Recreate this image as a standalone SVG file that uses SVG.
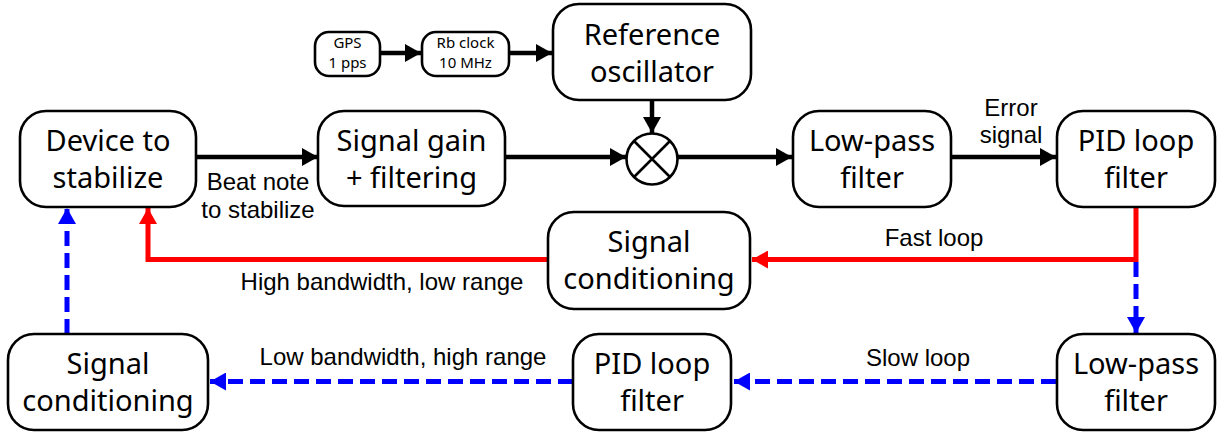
<svg xmlns="http://www.w3.org/2000/svg" width="1221" height="432" viewBox="0 0 1221 432">
<defs>
<style>
.box{fill:#fff;stroke:#000;stroke-width:2.6}
.bt{font-family:"Noto Sans","Open Sans",sans-serif;font-size:29px;fill:#000;text-anchor:middle}
.st{font-family:"Noto Sans","Open Sans",sans-serif;font-size:15px;fill:#000;text-anchor:middle}
.lb{font-family:"Liberation Sans",Arial,sans-serif;font-size:24px;fill:#000;text-anchor:middle}
.k{fill:none;stroke:#000;stroke-width:4.5}
.r{fill:none;stroke:#ff0000;stroke-width:5}
.b{fill:none;stroke:#0000ff;stroke-width:5;stroke-dasharray:15 7}
</style>
<marker id="ak" markerUnits="userSpaceOnUse" markerWidth="16" markerHeight="18" refX="16" refY="9" orient="auto"><path d="M0,0 L16,9 L0,18 Z" fill="#000"/></marker>
<marker id="ar" markerUnits="userSpaceOnUse" markerWidth="16" markerHeight="18" refX="16" refY="9" orient="auto"><path d="M0,0 L16,9 L0,18 Z" fill="#ff0000"/></marker>
<marker id="ab" markerUnits="userSpaceOnUse" markerWidth="16" markerHeight="18" refX="16" refY="9" orient="auto"><path d="M0,0 L16,9 L0,18 Z" fill="#0000ff"/></marker>
</defs>
<rect width="1221" height="432" fill="#fff"/>
<g id="connectors">
<path class="k" d="M381,53 H421" marker-end="url(#ak)"/>
<path class="k" d="M509,53 H552" marker-end="url(#ak)"/>
<path class="k" d="M652,100 V133" marker-end="url(#ak)"/>
<path class="k" d="M196,157 H318" marker-end="url(#ak)"/>
<path class="k" d="M505,157 H626" marker-end="url(#ak)"/>
<path class="k" d="M678,157 H792" marker-end="url(#ak)"/>
<path class="k" d="M950,157 H1056" marker-end="url(#ak)"/>
<path class="r" d="M1136,207 V259.5 H752" marker-end="url(#ar)"/>
<path class="r" d="M548,259.5 H148 V208" marker-end="url(#ar)"/>
<path class="b" d="M1136,262 V333" marker-end="url(#ab)"/>
<path class="b" d="M1056,381.5 H734" marker-end="url(#ab)"/>
<path class="b" d="M573,381.5 H210" marker-end="url(#ab)"/>
<path class="b" d="M67,334 V208" marker-end="url(#ab)"/>
<text class="lb" x="258" y="190">Beat note</text>
<text class="lb" x="258" y="218">to stabilize</text>
<text class="lb" x="1011" y="116">Error</text>
<text class="lb" x="1011" y="143">signal</text>
<text class="lb" x="934" y="246">Fast loop</text>
<text class="lb" x="382" y="290">High bandwidth, low range</text>
<text class="lb" x="918" y="366">Slow loop</text>
<text class="lb" x="403" y="365">Low bandwidth, high range</text>
</g>
<g id="gps"><rect class="box" x="315" y="32" width="65" height="44" rx="14"/><text class="st" x="347.5" y="47.5">GPS</text><text class="st" x="347.5" y="68">1 pps</text></g>
<g id="rb"><rect class="box" x="422" y="32" width="87" height="44" rx="14"/><text class="st" x="465.5" y="47.5">Rb clock</text><text class="st" x="465.5" y="68">10 MHz</text></g>
<g id="ref"><rect class="box" x="553" y="4" width="198" height="96" rx="26"/><text class="bt" x="652" y="45">Reference</text><text class="bt" x="652" y="82">oscillator</text></g>
<g id="mixer"><circle cx="652" cy="159" r="25.5" fill="#fff" stroke="#000" stroke-width="2.6"/><path d="M634,141 L670,177 M670,141 L634,177" stroke="#000" stroke-width="2.6"/></g>
<g id="device"><rect class="box" x="20" y="111" width="176" height="96" rx="26"/><text class="bt" x="108" y="151">Device to</text><text class="bt" x="108" y="188">stabilize</text></g>
<g id="gain"><rect class="box" x="318" y="111" width="187" height="95" rx="26"/><text class="bt" x="411.5" y="151">Signal gain</text><text class="bt" x="411.5" y="188">+ filtering</text></g>
<g id="lp1"><rect class="box" x="793" y="111" width="158" height="96" rx="26"/><text class="bt" x="872" y="151">Low-pass</text><text class="bt" x="872" y="188">filter</text></g>
<g id="pid1"><rect class="box" x="1057" y="111" width="158" height="96" rx="26"/><text class="bt" x="1136" y="151">PID loop</text><text class="bt" x="1136" y="188">filter</text></g>
<g id="sc1"><rect class="box" x="548" y="212" width="202" height="97" rx="26"/><text class="bt" x="649" y="252">Signal</text><text class="bt" x="649" y="289">conditioning</text></g>
<g id="lp2"><rect class="box" x="1057" y="334" width="158" height="96" rx="26"/><text class="bt" x="1136" y="374">Low-pass</text><text class="bt" x="1136" y="411">filter</text></g>
<g id="pid2"><rect class="box" x="573" y="334" width="158" height="96" rx="26"/><text class="bt" x="652" y="374">PID loop</text><text class="bt" x="652" y="411">filter</text></g>
<g id="sc2"><rect class="box" x="8" y="334" width="200" height="96" rx="26"/><text class="bt" x="108" y="374">Signal</text><text class="bt" x="108" y="411">conditioning</text></g>
</svg>
